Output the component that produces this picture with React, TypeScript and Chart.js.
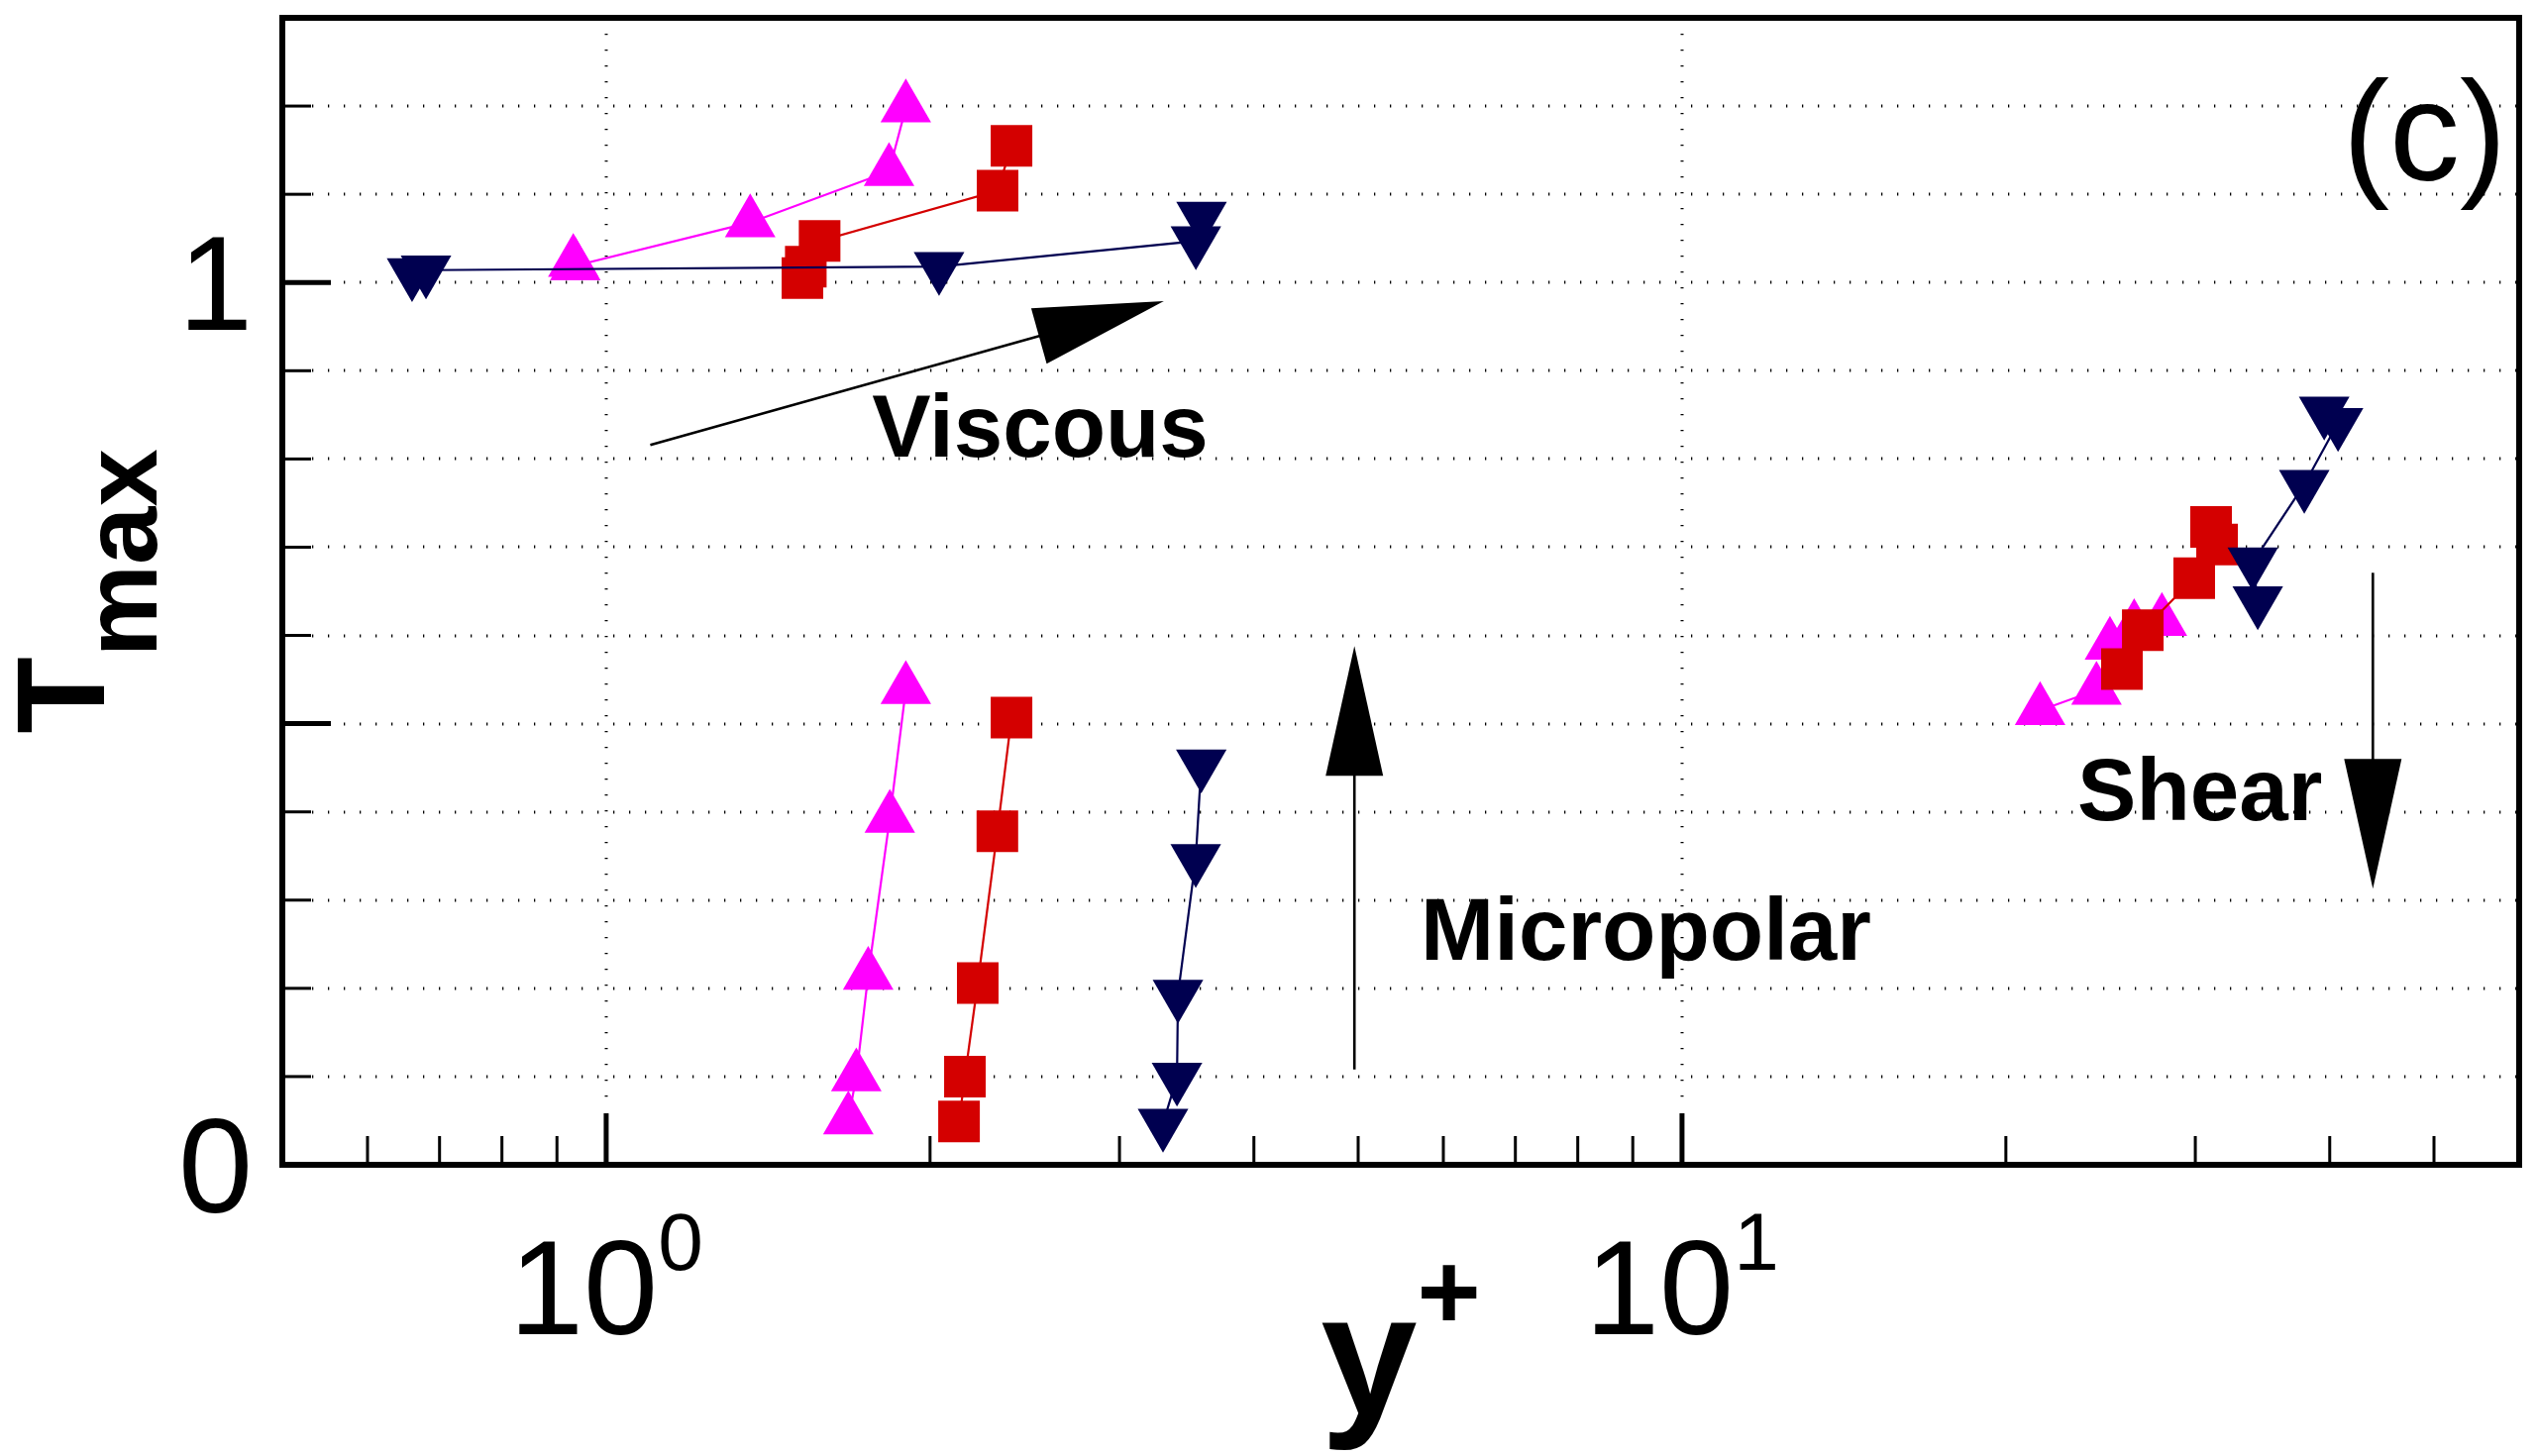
import React, { useEffect, useRef } from 'react';
import { Chart, registerables } from 'chart.js';

Chart.register(...registerables);

// ---------------- data (y+ , T_max) ----------------
const viscousMagentaX = [0.932, 0.936, 1.361, 1.832, 1.899];
const viscousMagentaY = [1.023, 1.019, 1.068, 1.126, 1.198];
const viscousRedX = [1.522, 1.533, 1.579, 2.311, 2.381];
const viscousRedY = [1.005, 1.018, 1.047, 1.104, 1.155];
const viscousNavyX = [0.66, 0.68, 2.039, 3.533, 3.576];
const viscousNavyY = [1.011, 1.014, 1.018, 1.047, 1.075];

const micropolarMagentaX = [1.679, 1.708, 1.752, 1.835, 1.899];
const micropolarMagentaY = [0.051, 0.1, 0.215, 0.393, 0.539];
const micropolarRedX = [2.128, 2.155, 2.215, 2.31, 2.381];
const micropolarRedY = [0.049, 0.1, 0.206, 0.378, 0.507];
const micropolarNavyX = [3.293, 3.393, 3.4, 3.532, 3.574];
const micropolarNavyY = [0.047, 0.099, 0.193, 0.347, 0.454];

const shearMagentaX = [21.52, 24.28, 24.99, 26.32, 27.93];
const shearMagentaY = [0.515, 0.538, 0.589, 0.609, 0.616];
const shearRedX = [25.64, 26.81, 29.93, 31.43, 31.03];
const shearRedY = [0.562, 0.606, 0.665, 0.703, 0.723];
const shearNavyX = [34.29, 33.93, 37.88, 40.72, 39.53];
const shearNavyY = [0.639, 0.683, 0.771, 0.841, 0.854];

// ---------------- axes ----------------
const xMin = 0.5;
const xMax = 60;
const yMin = 0;
const yMax = 1.3;
const xMajorTicks = [1, 10];
const xTickBase = ['10', '10'];
const xTickExponents = ['0', '1'];
const xMinorTicks = [0.6, 0.7, 0.8, 0.9, 2, 3, 4, 5, 6, 7, 8, 9, 20, 30, 40, 50];
const yMinorTicks = [0.1, 0.2, 0.3, 0.4, 0.5, 0.6, 0.7, 0.8, 0.9, 1.0, 1.1, 1.2];
const yMajorTicks = [0.5, 1.0];
const yLabelValues = [0, 1];
const yLabels = ['0', '1'];

// ---------------- annotations (data space anchors) ----------------
const arrows = [
  { from: [1.099, 0.816], to: [3.299, 0.979] },
  { from: [4.96, 0.108], to: [4.96, 0.588] },
  { from: [43.87, 0.671], to: [43.87, 0.313] },
];
const notes = [
  { text: 'Viscous', at: [1.766, 0.803] },
  { text: 'Micropolar', at: [5.715, 0.2325] },
  { text: 'Shear', at: [23.31, 0.3908] },
];
const panelLabel = { text: '(c)', at: [58.4, 1.1162] };

const MAGENTA = '#ff00ff';
const RED = '#d40000';
const NAVY = '#000050';
const FONT = '"Liberation Sans", Arial, Helvetica, sans-serif';

function pts(xs: number[], ys: number[]) {
  return xs.map((v, i) => ({ x: v, y: ys[i] }));
}

function series(xs: number[], ys: number[], color: string, kind: 'up' | 'square' | 'down') {
  return {
    data: pts(xs, ys),
    showLine: true,
    borderColor: color,
    borderWidth: 2.2,
    backgroundColor: color,
    pointBackgroundColor: color,
    pointBorderColor: color,
    pointBorderWidth: 0,
    pointStyle: kind === 'square' ? 'rect' : 'triangle',
    pointRotation: kind === 'down' ? 180 : 0,
    pointRadius: kind === 'square' ? 29.7 : 29.5,
    pointHoverRadius: kind === 'square' ? 29.7 : 29.5,
    tension: 0,
    fill: false,
    order: kind === 'up' ? 3 : kind === 'square' ? 2 : 1,
    clip: false as any,
  };
}

const decorPlugin = {
  id: 'decor',
  beforeDatasetsDraw(chart: any) {
    const { ctx, chartArea: a, scales } = chart;
    const xs = scales.x;
    const ys = scales.y;
    ctx.save();
    ctx.strokeStyle = '#000';
    ctx.lineWidth = 3;
    ctx.setLineDash([1.3, 14.7]);
    yMinorTicks.forEach((v) => {
      const py = Math.round(ys.getPixelForValue(v));
      ctx.beginPath();
      ctx.moveTo(a.left + 30, py);
      ctx.lineTo(a.right, py);
      ctx.stroke();
    });
    xMajorTicks.forEach((v) => {
      const px = Math.round(xs.getPixelForValue(v));
      ctx.beginPath();
      ctx.moveTo(px, a.top);
      ctx.lineTo(px, a.bottom - 55);
      ctx.stroke();
    });
    ctx.restore();
  },
  afterDatasetsDraw(chart: any) {
    const { ctx, chartArea: a, scales } = chart;
    const xs = scales.x;
    const ys = scales.y;
    ctx.save();
    ctx.setLineDash([]);
    ctx.strokeStyle = '#000';
    ctx.fillStyle = '#000';

    // ticks (inside)
    ctx.lineWidth = 3;
    yMinorTicks.forEach((v) => {
      if (yMajorTicks.includes(v)) return;
      const py = ys.getPixelForValue(v);
      ctx.beginPath();
      ctx.moveTo(a.left, py);
      ctx.lineTo(a.left + 29, py);
      ctx.stroke();
    });
    xMinorTicks.forEach((v) => {
      const px = xs.getPixelForValue(v);
      ctx.beginPath();
      ctx.moveTo(px, a.bottom);
      ctx.lineTo(px, a.bottom - 29);
      ctx.stroke();
    });
    ctx.lineWidth = 5;
    yMajorTicks.forEach((v) => {
      const py = ys.getPixelForValue(v);
      ctx.beginPath();
      ctx.moveTo(a.left, py);
      ctx.lineTo(a.left + 49, py);
      ctx.stroke();
    });
    xMajorTicks.forEach((v) => {
      const px = xs.getPixelForValue(v);
      ctx.beginPath();
      ctx.moveTo(px, a.bottom);
      ctx.lineTo(px, a.bottom - 52);
      ctx.stroke();
    });

    // frame
    ctx.lineWidth = 6;
    ctx.lineJoin = 'miter';
    ctx.strokeRect(a.left, a.top, a.right - a.left, a.bottom - a.top);

    // y tick labels
    ctx.font = `135px ${FONT}`;
    ctx.textAlign = 'right';
    ctx.textBaseline = 'alphabetic';
    yLabelValues.forEach((v, i) => {
      const py = ys.getPixelForValue(v);
      ctx.fillText(yLabels[i], a.left - 30, py + 48);
    });

    // x tick labels 10^n
    ctx.textAlign = 'left';
    xMajorTicks.forEach((v, i) => {
      const px = xs.getPixelForValue(v);
      ctx.font = `135px ${FONT}`;
      const wb = ctx.measureText(xTickBase[i]).width;
      ctx.font = `82px ${FONT}`;
      const we = ctx.measureText(xTickExponents[i]).width;
      const x0 = px - (wb + we) / 2;
      ctx.font = `135px ${FONT}`;
      ctx.fillText(xTickBase[i], x0, a.bottom + 171);
      ctx.font = `82px ${FONT}`;
      ctx.fillText(xTickExponents[i], x0 + wb, a.bottom + 106);
    });

    // x title y+
    {
      ctx.font = `bold 175px ${FONT}`;
      const w1 = ctx.measureText('y').width;
      ctx.font = `bold 110px ${FONT}`;
      const w2 = ctx.measureText('+').width;
      const cx = (a.left + a.right) / 2;
      const x0 = cx - (w1 + w2) / 2;
      ctx.font = `bold 175px ${FONT}`;
      ctx.fillText('y', x0, a.bottom + 252);
      ctx.font = `bold 110px ${FONT}`;
      ctx.fillText('+', x0 + w1, a.bottom + 166);
    }

    // y title T_max (rotated)
    {
      ctx.font = `bold 127px ${FONT}`;
      const w1 = ctx.measureText('T').width;
      ctx.font = `bold 105px ${FONT}`;
      const w2 = ctx.measureText('max').width;
      const cy = (a.top + a.bottom) / 2;
      ctx.save();
      ctx.translate(105, cy + (w1 + w2) / 2);
      ctx.rotate(-Math.PI / 2);
      ctx.textAlign = 'left';
      ctx.font = `bold 127px ${FONT}`;
      ctx.fillText('T', 0, 0);
      ctx.font = `bold 105px ${FONT}`;
      ctx.fillText('max', w1, 53);
      ctx.restore();
    }

    // arrows
    arrows.forEach((ar) => {
      const x0 = xs.getPixelForValue(ar.from[0]);
      const y0 = ys.getPixelForValue(ar.from[1]);
      const x1 = xs.getPixelForValue(ar.to[0]);
      const y1 = ys.getPixelForValue(ar.to[1]);
      const dx = x1 - x0;
      const dy = y1 - y0;
      const len = Math.hypot(dx, dy);
      const ux = dx / len;
      const uy = dy / len;
      const head = 131;
      const half = 29;
      const bx = x1 - ux * head;
      const by = y1 - uy * head;
      ctx.lineWidth = 2.6;
      ctx.beginPath();
      ctx.moveTo(x0, y0);
      ctx.lineTo(bx + ux * 4, by + uy * 4);
      ctx.stroke();
      ctx.beginPath();
      ctx.moveTo(x1, y1);
      ctx.lineTo(bx - uy * half, by + ux * half);
      ctx.lineTo(bx + uy * half, by - ux * half);
      ctx.closePath();
      ctx.fill();
    });

    // annotation texts
    ctx.font = `bold 89px ${FONT}`;
    ctx.textAlign = 'left';
    notes.forEach((n) => {
      ctx.fillText(n.text, xs.getPixelForValue(n.at[0]), ys.getPixelForValue(n.at[1]));
    });
    ctx.font = `142px ${FONT}`;
    ctx.textAlign = 'right';
    ctx.fillText(panelLabel.text, xs.getPixelForValue(panelLabel.at[0]), ys.getPixelForValue(panelLabel.at[1]));

    ctx.restore();
  },
};

export default function App() {
  const ref = useRef<HTMLCanvasElement | null>(null);

  useEffect(() => {
    document.body.style.margin = '0';
    document.body.style.overflow = 'hidden';
    const canvas = ref.current;
    if (!canvas) return;
    const chart = new Chart(canvas, {
      type: 'scatter',
      data: {
        datasets: [
          series(viscousMagentaX, viscousMagentaY, MAGENTA, 'up'),
          series(viscousRedX, viscousRedY, RED, 'square'),
          series(viscousNavyX, viscousNavyY, NAVY, 'down'),
          series(micropolarMagentaX, micropolarMagentaY, MAGENTA, 'up'),
          series(micropolarRedX, micropolarRedY, RED, 'square'),
          series(micropolarNavyX, micropolarNavyY, NAVY, 'down'),
          series(shearMagentaX, shearMagentaY, MAGENTA, 'up'),
          series(shearRedX, shearRedY, RED, 'square'),
          series(shearNavyX, shearNavyY, NAVY, 'down'),
        ] as any,
      },
      options: {
        animation: false,
        responsive: false,
        maintainAspectRatio: false,
        devicePixelRatio: 1,
        events: [],
        layout: { autoPadding: false, padding: { top: 18, right: 18, left: 0, bottom: 0 } },
        plugins: {
          legend: { display: false },
          tooltip: { enabled: false },
          title: { display: false },
        },
        scales: {
          x: {
            type: 'logarithmic',
            min: xMin,
            max: xMax,
            grid: { display: false, drawTicks: false },
            border: { display: false },
            ticks: { display: false },
            afterFit: (s: any) => {
              s.height = 294;
            },
          },
          y: {
            type: 'linear',
            min: yMin,
            max: yMax,
            grid: { display: false, drawTicks: false },
            border: { display: false },
            ticks: { display: false },
            afterFit: (s: any) => {
              s.width = 285;
            },
          },
        },
      } as any,
      plugins: [decorPlugin],
    });
    return () => chart.destroy();
  }, []);

  return (
    <div style={{ position: 'absolute', left: 0, top: 0, width: 2561, height: 1470, background: '#fff' }}>
      <canvas ref={ref} width={2561} height={1470} style={{ display: 'block', width: 2561, height: 1470 }} />
    </div>
  );
}
